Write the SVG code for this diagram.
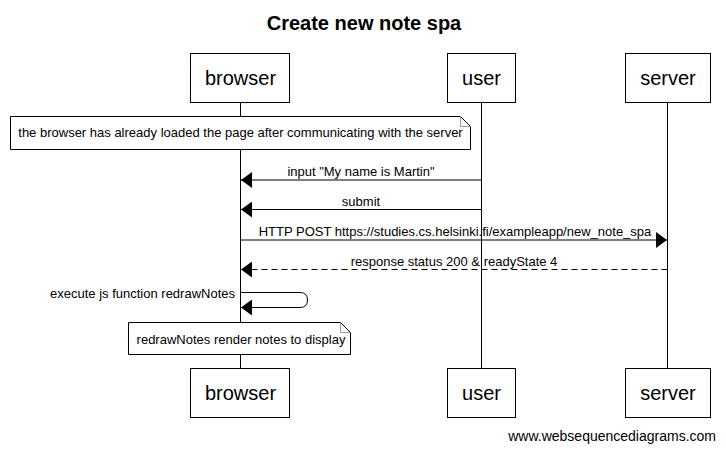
<svg xmlns="http://www.w3.org/2000/svg" width="726" height="451" viewBox="0 0 726 451">
<style>
text{font-family:"Liberation Sans",Arial,sans-serif;fill:#000}
.title{font-size:20px;font-weight:bold}
.actor{font-size:20px}
.msg{font-size:13px}
.wm{font-size:14px}
.box{fill:#fff;stroke:#000;stroke-width:1}
.life{stroke:#000;stroke-width:1}
.line{stroke:#000;stroke-width:1;fill:none}
.dash{stroke-dasharray:6,4}
.note{fill:#fff;stroke:#000;stroke-width:1}
.fold{fill:none;stroke:#999;stroke-width:1}
</style>
<defs>
<marker id="ah" viewBox="0 0 11 16" refX="11" refY="8" markerWidth="11" markerHeight="16" markerUnits="userSpaceOnUse" orient="auto">
<path d="M0,0 L11,8 L0,16 Z" fill="#000"/>
</marker>
</defs>
<rect width="726" height="451" fill="#fff"/>
<text class="title" x="364" y="30" text-anchor="middle">Create new note spa</text>
<g id="lifelines">
<line class="life" x1="240.5" y1="102" x2="240.5" y2="368"/>
<line class="life" x1="481.5" y1="102" x2="481.5" y2="368"/>
<line class="life" x1="667.5" y1="102" x2="667.5" y2="368"/>
</g>
<g id="browser">
<rect class="box" x="190.5" y="53.5" width="99" height="49"/>
<text class="actor" x="240.5" y="84.5" text-anchor="middle">browser</text>
<rect class="box" x="190.5" y="368.5" width="99" height="49"/>
<text class="actor" x="240.5" y="399.5" text-anchor="middle">browser</text>
</g>
<g id="user">
<rect class="box" x="447.5" y="53.5" width="68" height="49"/>
<text class="actor" x="481.5" y="84.5" text-anchor="middle">user</text>
<rect class="box" x="447.5" y="368.5" width="68" height="49"/>
<text class="actor" x="481.5" y="399.5" text-anchor="middle">user</text>
</g>
<g id="server">
<rect class="box" x="625.5" y="53.5" width="85" height="49"/>
<text class="actor" x="668" y="84.5" text-anchor="middle">server</text>
<rect class="box" x="625.5" y="368.5" width="85" height="49"/>
<text class="actor" x="668" y="399.5" text-anchor="middle">server</text>
</g>
<g id="note1">
<path class="note" d="M10.5,116.5 H460.5 L470.5,126.5 V149.5 H10.5 Z"/>
<path class="fold" d="M460.5,116.5 V126.5 H470.5"/>
<text class="msg" x="240.5" y="137" text-anchor="middle">the browser has already loaded the page after communicating with the server</text>
</g>
<g id="connectors">
<line class="line" x1="481.5" y1="180" x2="241" y2="180" marker-end="url(#ah)"/>
<text class="msg" x="361" y="176" text-anchor="middle">input "My name is Martin"</text>
<line class="line" x1="481.5" y1="209.5" x2="241" y2="209.5" marker-end="url(#ah)"/>
<text class="msg" x="361" y="205.5" text-anchor="middle">submit</text>
<line class="line" x1="240.5" y1="240" x2="667" y2="240" marker-end="url(#ah)"/>
<text class="msg" x="455" y="235.5" text-anchor="middle">HTTP POST https://studies.cs.helsinki.fi/exampleapp/new_note_spa</text>
<line class="line dash" x1="667.5" y1="269.5" x2="241" y2="269.5" marker-end="url(#ah)"/>
<text class="msg" x="454" y="265.5" text-anchor="middle">response status 200 &amp; readyState 4</text>
<path class="line" d="M240.5,292.5 H300 Q307.5,292.5 307.5,300 Q307.5,307.5 300,307.5 H241" marker-end="url(#ah)"/>
<text class="msg" x="235" y="297.5" text-anchor="end">execute js function redrawNotes</text>
</g>
<g id="note2">
<path class="note" d="M128.5,322.5 H340.5 L350.5,332.5 V354.5 H128.5 Z"/>
<path class="fold" d="M340.5,322.5 V332.5 H350.5"/>
<text class="msg" x="241" y="343.5" text-anchor="middle">redrawNotes render notes to display</text>
</g>
<text class="wm" x="716" y="441" text-anchor="end">www.websequencediagrams.com</text>
</svg>
